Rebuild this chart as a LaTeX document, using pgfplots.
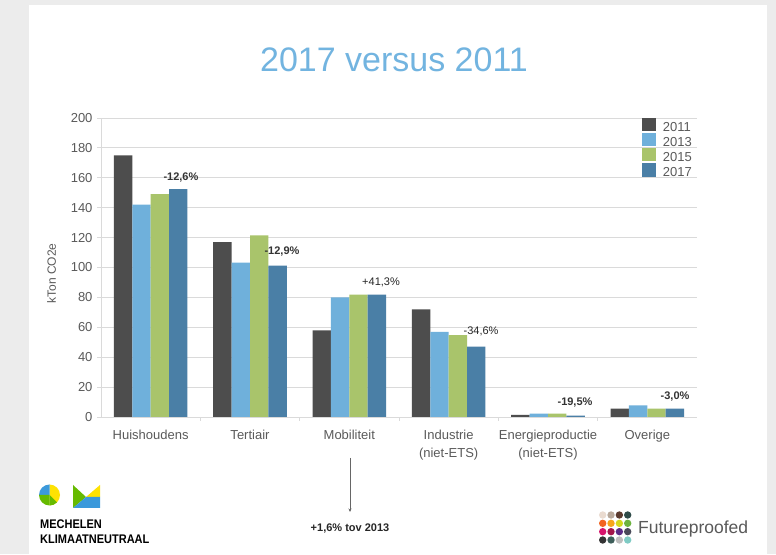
\documentclass[border=0pt]{standalone}
\usepackage{pgfplots}
\pgfplotsset{compat=1.18}
\usepackage{fontspec}
\setmainfont{Liberation Sans}
\usetikzlibrary{arrows.meta}
\definecolor{cA}{HTML}{4D4D4D}
\definecolor{cB}{HTML}{6FB0DB}
\definecolor{cC}{HTML}{A9C46B}
\definecolor{cD}{HTML}{4A7FA6}
\definecolor{titleblue}{HTML}{72B4E0}
\definecolor{txtgray}{HTML}{5A5A5A}
\definecolor{gridgray}{HTML}{DADADA}
\definecolor{bggray}{HTML}{ECECEC}
\begin{document}
\begin{tikzpicture}[x=1pt,y=1pt]
\useasboundingbox (0,0) rectangle (776,554);
\fill[bggray] (0,0) rectangle (776,554);
\fill[white] (29,0) rectangle (767,549);
\begin{axis}[
  at={(101pt,137pt)}, anchor=south west,
  scale only axis, width=596pt, height=299pt,
  xmin=-0.5, xmax=5.5, ymin=0, ymax=200,
  ybar=0pt, bar width=18.4pt,
  axis x line=bottom, axis y line=left,
  axis line style={draw=gridgray, line width=0.9pt, -},
  ymajorgrids, grid style={gridgray, line width=0.9pt},
  ytick={0,20,...,200},
  xtick={0,1,2,3,4,5},
  xticklabels={Huishoudens,Tertiair,Mobiliteit,{Industrie\\(niet-ETS)},{Energieproductie\\(niet-ETS)},Overige},
  xtick style={draw=none},
  extra x ticks={0.5,1.5,2.5,3.5,4.5},
  extra x tick labels={},
  extra x tick style={xtick style={draw=gridgray, line width=0.9pt}, major tick length=4pt, tick align=outside, grid=none},
  ytick style={draw=gridgray, line width=0.9pt},
  tick align=outside, major tick length=4pt,
  /pgf/number format/assume math mode=true,
  ticklabel style={font=\fontsize{13}{17.5}\selectfont, text=txtgray},
  xticklabel style={align=center, yshift=-6pt},
  yticklabel style={xshift=-1pt},
  ylabel={kTon CO2e},
  ylabel style={at={(rel axis cs:-0.083,0.48)}, anchor=center, font=\fontsize{12}{14}\selectfont, text=txtgray},
  legend style={at={(rel axis cs:0.908,1.0)}, anchor=north west, draw=none, fill=none,
    inner sep=0pt, outer sep=0pt, row sep=-4pt, column sep=7pt,
    nodes={inner sep=0pt, text height=10pt, text depth=5.5pt, font=\fontsize{13}{15.6}\selectfont, text=txtgray}},
  legend cell align=left,
  legend image code/.code={\fill[#1] (0pt,-2.1pt) rectangle (13.7pt,11.3pt);},
]
\addplot[fill=cA, draw=none] coordinates {(0,175) (1,117) (2,58) (3,72) (4,1.5) (5,5.6)};
\addplot[fill=cB, draw=none] coordinates {(0,142) (1,103.2) (2,80) (3,57) (4,2.2) (5,7.8)};
\addplot[fill=cC, draw=none] coordinates {(0,149) (1,121.5) (2,81.8) (3,54.8) (4,2.2) (5,5.6)};
\addplot[fill=cD, draw=none] coordinates {(0,152.5) (1,101.2) (2,81.8) (3,47) (4,0.9) (5,5.6)};
\legend{2011,2013,2015,2017}
\node[font=\bfseries\fontsize{11}{13}\selectfont, text=black!80] at (axis cs:0.305,160.5) {-12,6\%};
\node[font=\bfseries\fontsize{11}{13}\selectfont, text=black!80] at (axis cs:1.322,111) {-12,9\%};
\node[font=\fontsize{11}{13}\selectfont, text=black!85] at (axis cs:2.319,90.3) {+41,3\%};
\node[font=\fontsize{11}{13}\selectfont, text=black!85] at (axis cs:3.326,57.5) {-34,6\%};
\node[font=\bfseries\fontsize{11}{13}\selectfont, text=black!80] at (axis cs:4.272,9.4) {-19,5\%};
\node[font=\bfseries\fontsize{11}{13}\selectfont, text=black!80] at (axis cs:5.279,14) {-3,0\%};
\end{axis}
% title
\node[font=\fontsize{34}{40}\selectfont, text=titleblue] at (394,494) {2017 versus 2011};
% arrow
\draw[black!60, line width=0.6pt, -{Stealth[length=3.5pt,width=3pt]}] (350,96) -- (350,42);
\node[font=\bfseries\fontsize{11}{13}\selectfont, text=black!85] at (350,25) {+1,6\% tov 2013};
% Mechelen logo
\begin{scope}
\fill[yellow!85!orange] (49.5,59) -- (49.5,69.5) arc (90:-90:10.5) -- cycle;
\fill[cyan!70!blue!80] (49.5,59) -- (39,59) arc (180:90:10.5) -- cycle;
\fill[green!55!black!60!yellow] (49.5,59) -- (39,59) arc (180:270:10.5) -- cycle;
\fill[green!55!black!60!yellow] (49.5,59) -- (49.5,48.5) arc (270:315:10.5) -- cycle;
\fill[green!55!black!60!yellow] (73,69) -- (86,57) -- (73,46) -- cycle;
\fill[yellow!85!orange] (86,57) -- (100,69) -- (100,57) -- cycle;
\fill[cyan!70!blue!80] (73,46) -- (86,57) -- (100,57) -- (100,46) -- cycle;
\end{scope}
\node[anchor=west, inner sep=0pt, font=\bfseries\fontsize{12.5}{14}\selectfont] at (40,30) {\scalebox{0.88}[1]{MECHELEN}};
\node[anchor=west, inner sep=0pt, font=\bfseries\fontsize{12.5}{14}\selectfont] at (40,15) {\scalebox{0.88}[1]{KLIMAATNEUTRAAL}};
% Futureproofed logo
\foreach \c [count=\i from 0] in {EADBD0,B8A89A,5B3A2E,2E4A48,F26522,F7A51C,D4D81C,6DB33F,D6156C,A3154A,5B2A86,4A4A5A,333333,3E5E5A,BDBDBD,7FCBC4}{
  \pgfmathtruncatemacro{\col}{mod(\i,4)}
  \pgfmathtruncatemacro{\row}{div(\i,4)}
  \definecolor{dotc}{HTML}{\c}
  \fill[dotc] ({602.7+8.33*\col},{39-8.33*\row}) circle (3.7);
}
\node[anchor=west, inner sep=0pt, font=\fontsize{17.5}{20}\selectfont, text=black!65] at (638,25) {Futureproofed};
\end{tikzpicture}
\end{document}
